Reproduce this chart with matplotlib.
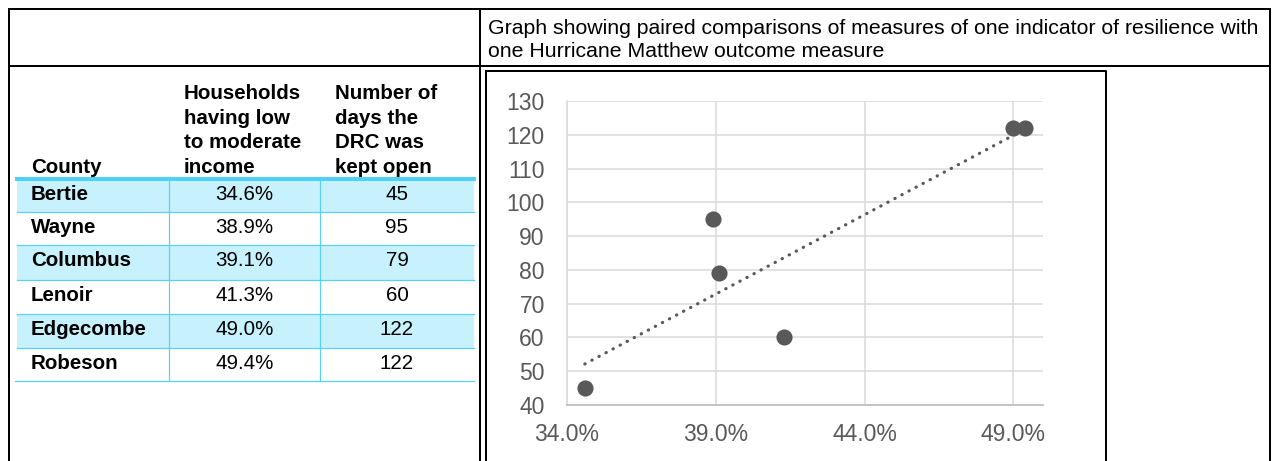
import numpy as np
import matplotlib
matplotlib.use("Agg")
import matplotlib.pyplot as plt
from matplotlib.ticker import FuncFormatter

plt.rcParams['font.family'] = ['Liberation Sans', 'DejaVu Sans']

# ---- data ----
counties = ["Bertie", "Wayne", "Columbus", "Lenoir", "Edgecombe", "Robeson"]
low_mod_income = [34.6, 38.9, 39.1, 41.3, 49.0, 49.4]   # percent
drc_days = [45, 95, 79, 60, 122, 122]
header_county = "County"
header_income = ["Households", "having low", "to moderate", "income"]
header_days = ["Number of", "days the", "DRC was", "kept open"]
title_lines = ["Graph showing paired comparisons of measures of one indicator of resilience with",
               "one Hurricane Matthew outcome measure"]
x_ticks = [34, 39, 44, 49]
y_ticks = [40, 50, 60, 70, 80, 90, 100, 110, 120, 130]

W, H = 1273, 461
fig = plt.figure(figsize=(W / 100, H / 100), dpi=100)

# full-figure pixel axes for table & borders
bg = fig.add_axes([0, 0, 1, 1])
bg.set_xlim(0, W)
bg.set_ylim(H, 0)
bg.axis('off')

BLACK = 'black'
LW = 2.0 * 72 / 100  # 2 px
# outer frame
bg.plot([9, 1270], [9, 9], color=BLACK, lw=LW, solid_capstyle='projecting')
bg.plot([9, 9], [9, H + 5], color=BLACK, lw=LW)
bg.plot([1270, 1270], [9, H + 5], color=BLACK, lw=LW)
bg.plot([9, 1270], [66, 66], color=BLACK, lw=LW)
bg.plot([480, 480], [9, H + 5], color=BLACK, lw=LW)
# chart box
bg.plot([486, 1106, 1106], [71, 71, H + 5], color=BLACK, lw=LW)
bg.plot([486, 486], [71, H + 5], color=BLACK, lw=LW)

# title
tx = 488
for i, line in enumerate(title_lines):
    bg.text(tx, 34 + i * 23, line, fontsize=15.3, va='baseline', ha='left', color='black')

# table
CYAN_FILL = '#c7f1fd'
CYAN_LINE = '#55d1f4'
CYAN_THICK = '#4fd0f5'
tab_l, tab_r = 17, 474
col1, col2 = 169, 320
row_edges = [179, 212, 245, 280, 314, 348, 381]
fs = 14.8

for i, name in enumerate(counties):
    top, bot = row_edges[i], row_edges[i + 1]
    if i % 2 == 0:
        bg.add_patch(plt.Rectangle((tab_l, top), tab_r - tab_l, bot - top,
                                   facecolor=CYAN_FILL, edgecolor='none', zorder=1))
    base = top + 21
    bg.text(31, base, name, fontsize=fs, fontweight='bold', va='baseline', ha='left', zorder=3)
    bg.text((col1 + col2) / 2, base, f"{low_mod_income[i]:.1f}%", fontsize=fs,
            va='baseline', ha='center', zorder=3)
    bg.text((col2 + tab_r) / 2, base, f"{drc_days[i]}", fontsize=fs,
            va='baseline', ha='center', zorder=3)

lw1 = 1.2 * 72 / 100
for y in row_edges[1:]:
    x0 = 15 if y == row_edges[-1] else tab_l
    bg.plot([x0, tab_r], [y, y], color=CYAN_LINE, lw=lw1, zorder=2)
for x in (col1, col2):
    bg.plot([x, x], [row_edges[0], row_edges[-1]], color=CYAN_LINE, lw=lw1, zorder=2)
bg.plot([tab_l, tab_r], [179, 179], color=CYAN_THICK, lw=4 * 72 / 100, zorder=2)

# header
bg.text(31, 173, header_county, fontsize=fs, fontweight='bold', va='baseline', ha='left')
for i, (a, b) in enumerate(zip(header_income, header_days)):
    y = 99 + i * 24.5
    bg.text(184, y, a, fontsize=fs, fontweight='bold', va='baseline', ha='left')
    bg.text(335, y, b, fontsize=fs, fontweight='bold', va='baseline', ha='left')

# ---- scatter chart ----
left_px, right_px, top_px, bot_px = 567, 1043, 101, 405
ax = fig.add_axes([left_px / W, (H - bot_px) / H, (right_px - left_px) / W, (bot_px - top_px) / H])
GRID = '#d9d9d9'
TXT = '#595959'
ax.set_xlim(34, 50)
ax.set_ylim(40, 130)
ax.set_xticks(x_ticks)
ax.set_yticks(y_ticks)
ax.xaxis.set_major_formatter(FuncFormatter(lambda v, p: f"{v:.1f}%"))
ax.grid(True, color=GRID, lw=1.5 * 72 / 100, zorder=0)
ax.set_axisbelow(True)
for s in ('top', 'right'):
    ax.spines[s].set_visible(False)
ax.spines['left'].set_color(GRID)
ax.spines['left'].set_linewidth(1.5 * 72 / 100)
ax.spines['bottom'].set_color('#bfbfbf')
ax.spines['bottom'].set_linewidth(1.8 * 72 / 100)
ax.tick_params(length=0, labelsize=16.5, colors=TXT)
ax.tick_params(axis='y', pad=16)
ax.tick_params(axis='x', pad=13)
ax.patch.set_visible(False)

xs = np.array(low_mod_income)
ys = np.array(drc_days)
m, c = np.polyfit(xs, ys, 1)
xl = np.array([xs.min(), xs.max()])
ax.plot(xl, m * xl + c, color=TXT, lw=2.3, linestyle=(0, (0.1, 2.4)),
        dash_capstyle='round', zorder=2, clip_on=False)
ax.scatter(xs, ys, s=135, color=TXT, zorder=3, clip_on=False, linewidths=0)

fig.savefig('out.png', dpi=100)
